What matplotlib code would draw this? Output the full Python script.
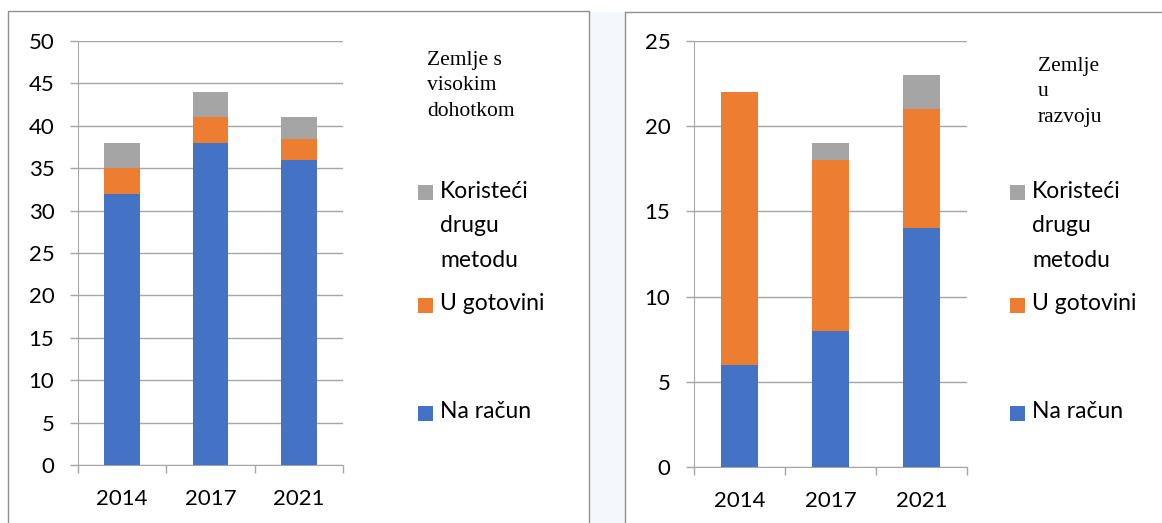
import matplotlib.pyplot as plt
from matplotlib.lines import Line2D
from matplotlib.patches import Rectangle

plt.rcParams['font.family'] = ['Lato', 'DejaVu Sans']

years = ['2014', '2017', '2021']
series = ['Na račun', 'U gotovini', 'Koristeći\ndrugu\nmetodu']
colors = ['#4472C4', '#ED7D31', '#A5A5A5']

# high income countries
high_racun = [32, 38, 36]
high_gotovina = [3, 3, 2.5]
high_druga = [3, 3, 2.5]

# developing countries
dev_racun = [6, 8, 14]
dev_gotovina = [16, 10, 7]
dev_druga = [0, 1, 2]

W, H = 1162, 523
fig = plt.figure(figsize=(W / 100, H / 100), dpi=100)
grid_c = '#a6a6a6'
border_c = '#8f8f8f'


def fx(x):
    return x / W


def fy(y):
    return 1 - y / H


# panel frames and the gap between them
fig.patches.append(Rectangle((fx(589), 0), fx(625) - fx(589), fy(12), transform=fig.transFigure,
                             facecolor='#f4f7fb', edgecolor='none', zorder=0))
for xs, ys in [([8, 8, 589, 589], [523, 11, 11, 523]),
               ([625, 625, 1162], [523, 12, 12])]:
    fig.lines.append(Line2D([fx(x) for x in xs], [fy(y) for y in ys], transform=fig.transFigure,
                            color=border_c, lw=1))


def draw_panel(rect, racun, gotovina, druga, ymax, title, title_xy, leg_x):
    ax = fig.add_axes(rect)
    x = range(len(years))
    ax.bar(x, racun, 0.4, color=colors[0], zorder=3)
    ax.bar(x, gotovina, 0.4, bottom=racun, color=colors[1], zorder=3)
    bottom2 = [a + b for a, b in zip(racun, gotovina)]
    ax.bar(x, druga, 0.4, bottom=bottom2, color=colors[2], zorder=3)
    ax.set_xlim(-0.5, 2.5)
    ax.set_ylim(0, ymax)
    ax.set_yticks(range(0, ymax + 1, 5))
    ax.set_xticks(list(x))
    ax.set_xticklabels(years)
    ax.set_xticks([-0.5, 0.5, 1.5, 2.5], minor=True)
    ax.tick_params(axis='x', which='major', length=0, pad=17, labelsize=16)
    ax.tick_params(axis='x', which='minor', length=6, width=1, color=grid_c)
    ax.tick_params(axis='y', length=6, width=1, color=grid_c, pad=11, labelsize=16)
    ax.grid(axis='y', color=grid_c, lw=1, zorder=0)
    for s in ['top', 'right']:
        ax.spines[s].set_visible(False)
    for s in ['left', 'bottom']:
        ax.spines[s].set_color(grid_c)
    fig.text(fx(title_xy[0]), fy(title_xy[1]), title, family='Liberation Serif', fontsize=15.5,
             va='top', ha='left', linespacing=1.45)
    # legend, drawn top to bottom like the original
    for lab, col, yy in zip(series[::-1], colors[::-1], [193, 305, 413]):
        fig.patches.append(Rectangle((fx(leg_x), fy(yy + 7.5)), 15 / W, 15 / H,
                                     transform=fig.transFigure, facecolor=col, edgecolor='none'))
        fig.text(fx(leg_x + 22), fy(yy - 12), lab, fontsize=16.5, va='top', ha='left', linespacing=1.78)
    return ax


draw_panel([fx(78), fy(465), (343 - 78) / W, (465 - 41) / H],
           high_racun, high_gotovina, high_druga, 50,
           'Zemlje s\nvisokim\ndohotkom', (427, 51), 418)
draw_panel([fx(694), fy(467), (967 - 694) / W, (467 - 41) / H],
           dev_racun, dev_gotovina, dev_druga, 25,
           'Zemlje\nu\nrazvoju', (1038, 57), 1010)

fig.savefig('out.png', dpi=100)
